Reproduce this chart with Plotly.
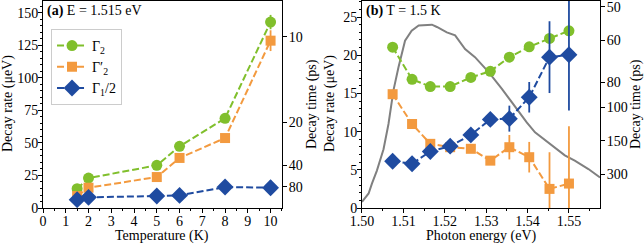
import plotly.graph_objects as go

HBAR2 = 1316.4  # 2*hbar in ueV*ps

# Panel (a): temperature dependence at E = 1.515 eV
temp = [1.5, 2, 5, 6, 8, 10]
a_gamma2 = [14.8, 23.0, 32.8, 47.4, 69.0, 143.0]
a_gamma2_err = [1.0, 1.0, 1.0, 1.0, 1.5, 5.5]
a_gamma2p = [9.2, 15.6, 23.8, 38.5, 53.8, 128.7]
a_gamma2p_err = [1.0, 1.0, 1.0, 1.0, 1.5, 8.0]
a_gamma1h = [6.4, 8.2, 9.2, 9.7, 16.1, 15.6]
a_gamma1h_err = [0.5, 0.5, 0.5, 0.5, 1.0, 5.5]

# Panel (b): photon-energy dependence at T = 1.5 K
energy = [1.5074, 1.5121, 1.5165, 1.5213, 1.5263, 1.5310, 1.5356, 1.5404, 1.5453, 1.5500]
b_gamma2 = [21.06, 16.84, 15.9, 15.9, 17.1, 17.9, 19.75, 21.1, 22.2, 23.2]
b_gamma2_err = [0.3, 0.3, 0.3, 0.3, 0.3, 0.3, 0.3, 0.3, 0.4, 0.4]
b_gamma2p = [14.9, 11.0, 8.4, 7.96, 7.75, 6.2, 7.96, 6.65, 2.5, 3.2]
b_gamma2p_err = [0.4, 0.4, 0.4, 0.4, 0.4, 0.5, 1.6, 2.0, 4.8, 7.5]
b_gamma1h = [6.13, 5.8, 7.4, 8.1, 9.57, 11.6, 11.7, 14.5, 19.75, 20.06]
b_gamma1h_err = [0.3, 0.3, 0.4, 0.4, 0.5, 0.6, 1.7, 2.0, 4.7, 7.3]

# Photoluminescence spectrum (scaled to left axis units)
pl_energy = [1.5000, 1.5016, 1.5024, 1.5036, 1.5052, 1.5064, 1.5076, 1.5088, 1.5104, 1.5120,
             1.5137, 1.5169, 1.5181, 1.5205, 1.5225, 1.5249, 1.5273, 1.5306, 1.5338, 1.5370,
             1.5398, 1.5418, 1.5450, 1.5490, 1.5514, 1.5547, 1.5575]
pl_value = [0.8, 1.9, 3.2, 4.9, 7.7, 11.0, 15.4, 18.4, 21.9, 23.2,
            23.9, 24.0, 23.7, 23.0, 22.6, 20.8, 19.75, 17.8, 15.6, 13.2,
            11.2, 9.9, 8.6, 6.9, 6.2, 5.1, 4.0]

a_time_ticks = [10, 20, 40, 80]
b_time_ticks = [50, 60, 80, 100, 150, 300]

GREEN = "#80bf2c"
ORANGE = "#f39a3f"
BLUE = "#1f4ba0"
GRAY = "#808080"
FONT = "Liberation Serif"
DASH = "7px,3px"

fig = go.Figure()

def add_series(x, y, err, color, symbol, size, name, xa, ya, show):
    fig.add_trace(go.Scatter(
        x=x, y=y, mode="lines+markers", name=name, showlegend=show,
        xaxis=xa, yaxis=ya,
        line=dict(color=color, width=2, dash=DASH),
        marker=dict(color=color, symbol=symbol, size=size, line=dict(width=0)),
        error_y=dict(type="data", array=err, visible=True, color=color, thickness=1.8, width=0),
    ))

add_series(temp, a_gamma2, a_gamma2_err, GREEN, "circle", 11, "Γ<sub>2</sub>", "x", "y", True)
add_series(temp, a_gamma2p, a_gamma2p_err, ORANGE, "square", 10, "Γ′<sub>2</sub>", "x", "y", True)
add_series(temp, a_gamma1h, a_gamma1h_err, BLUE, "diamond", 13, "Γ<sub>1</sub>/2", "x", "y", True)

fig.add_trace(go.Scatter(x=pl_energy, y=pl_value, mode="lines", showlegend=False,
                         xaxis="x2", yaxis="y3", line=dict(color=GRAY, width=2)))
add_series(energy, b_gamma2, b_gamma2_err, GREEN, "circle", 11, "Γ<sub>2</sub>", "x2", "y3", False)
add_series(energy, b_gamma2p, b_gamma2p_err, ORANGE, "square", 10, "Γ′<sub>2</sub>", "x2", "y3", False)
add_series(energy, b_gamma1h, b_gamma1h_err, BLUE, "diamond", 13, "Γ<sub>1</sub>/2", "x2", "y3", False)

a_range = [0, 159.2]
b_range = [0, 27.1]
fig.add_trace(go.Scatter(x=[None], y=[None], xaxis="x", yaxis="y2", showlegend=False))
fig.add_trace(go.Scatter(x=[None], y=[None], xaxis="x2", yaxis="y4", showlegend=False))

tickfont = dict(family=FONT, size=14, color="black")
common = dict(showline=True, linecolor="black", linewidth=1, ticks="outside", ticklen=4,
              tickwidth=1, tickcolor="black", showgrid=False, zeroline=False,
              tickfont=tickfont, automargin=False, ticklabeloverflow="allow")
minor_common = dict(ticks="outside", ticklen=2, tickcolor="black")

fig.update_layout(
    width=644, height=244,
    margin=dict(l=43, r=44, t=1, b=36),
    plot_bgcolor="white", paper_bgcolor="white",
    font=dict(family=FONT, size=14, color="black"),
    xaxis=dict(domain=[0, 0.429], range=[0, 10.5], dtick=1, mirror=True, anchor="y",
               ticklabelstandoff=-4,
               minor=dict(dtick=0.5, **minor_common), **common),
    yaxis=dict(range=a_range, dtick=25, mirror=True, anchor="x", ticklabelstandoff=-3,
               minor=dict(dtick=5, **minor_common), **common),
    yaxis2=dict(range=a_range, overlaying="y", side="right", anchor="x", ticklabelstandoff=-1,
                tickmode="array", tickvals=[HBAR2 / t for t in a_time_ticks],
                ticktext=[str(t) for t in a_time_ticks], **common),
    xaxis2=dict(domain=[0.5727, 1], range=[1.50, 1.5575], dtick=0.01, tickformat=".2f",
                mirror=True, anchor="y3", ticklabelstandoff=-4,
                minor=dict(dtick=0.005, **minor_common), **common),
    yaxis3=dict(range=b_range, dtick=5, mirror=True, anchor="x2", ticklabelstandoff=-3,
                minor=dict(dtick=1, **minor_common), **common),
    yaxis4=dict(range=b_range, overlaying="y3", side="right", anchor="x2", ticklabelstandoff=-1,
                tickmode="array", tickvals=[HBAR2 / t for t in b_time_ticks],
                ticktext=[str(t) for t in b_time_ticks], **common),
    legend=dict(x=0.0144, y=0.865, xanchor="left", yanchor="top",
                bgcolor="white", bordercolor="#cccccc", borderwidth=1,
                font=dict(family=FONT, size=14), tracegroupgap=0, itemwidth=30),
)

def ann(text, x, y, angle=0, xanchor="center", yanchor="middle"):
    fig.add_annotation(text=text, xref="paper", yref="paper", x=x, y=y, textangle=angle,
                       xanchor=xanchor, yanchor=yanchor, showarrow=False,
                       font=dict(family=FONT, size=14, color="black"))

PW, PH, L, T = 557, 207, 43, 1
def px(xp):
    return (xp - L) / PW
def py(yp):
    return 1 - (yp - T) / PH

ann("<b>(a)</b> E = 1.515 eV", px(45), py(1), xanchor="left", yanchor="top")
ann("<b>(b)</b> T = 1.5 K", px(364), py(1), xanchor="left", yanchor="top")
ann("Temperature (K)", px(162), py(236))
ann("Photon energy (eV)", px(481), py(236))
ann("Decay rate (μeV)", px(8), py(104), angle=-90)
ann("Decay time (ps)", px(312), py(104), angle=-90)
ann("Decay rate (μeV)", px(330), py(104), angle=-90)
ann("Decay time (ps)", px(636), py(104), angle=-90)

fig.write_html("out.html", config={"displayModeBar": False},
               post_script="document.body.style.margin='0';document.body.style.padding='0';")
